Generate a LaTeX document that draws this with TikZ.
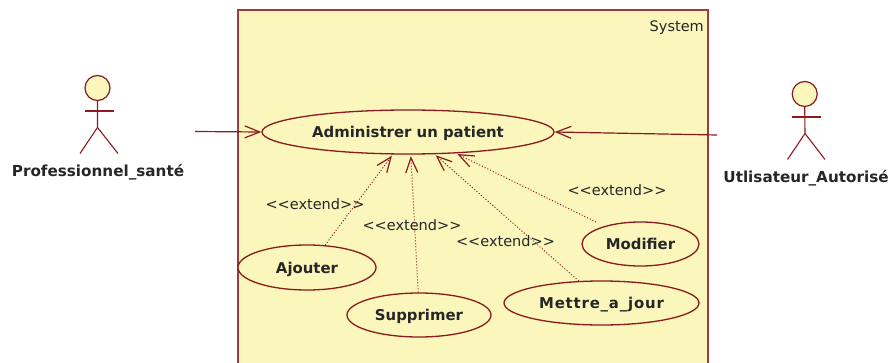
\documentclass[tikz,border=0pt]{standalone}
\usepackage{xcolor}
\usepackage{fontspec}
\setmainfont{DejaVu Sans}
\usepackage{tikz}
\usetikzlibrary{arrows.meta,positioning,shapes.geometric}
\definecolor{myred}{HTML}{8B1A1F}
\definecolor{myyellow}{HTML}{FAF6BC}
\definecolor{mytext}{HTML}{262626}

\begin{document}
\begin{tikzpicture}[>={Straight Barb[length=15pt,width=12pt,line width=1.2pt]},x=1pt,y=-1pt]
    \tikzstyle{usecase} = [shape=ellipse,draw=myred,line width=1.3pt,fill=myyellow,text=mytext,font=\fontsize{14.9}{16}\selectfont\bfseries,inner sep=0,text height=11pt,text depth=0pt]
    \tikzstyle{actorlabel} = [text=mytext,font=\fontsize{15.2}{16}\selectfont\bfseries,inner sep=0]
    \tikzstyle{extlabel} = [text=mytext,font=\fontsize{14.5}{16}\selectfont,inner sep=0]
    \tikzstyle{assoc} = [->,myred,line width=1.2pt]
    \tikzstyle{ext} = [->,myred,line width=1pt,dotted]
    \tikzstyle{limb} = [myred,line width=1.1pt]
    \tikzstyle{head} = [shape=circle,draw=myred,line width=1.2pt,fill=myyellow,minimum size=25pt,inner sep=0]
    \useasboundingbox (0,0) rectangle (890,363);
    % system box, cut by the lower edge
    \fill[myyellow] (238,10) rectangle (708,363);
    \draw[myred!85!white,line width=1.3pt] (238,363) -- (238,10) -- (708,10) -- (708,363);
    \node[extlabel,anchor=east] (system) at (704,28) {System};

    % left actor
    \node[head] (prof) at (97.5,88) {};
    \draw[limb] (prof.south) -- (97.5,127.5) -- (80,153.5);
    \draw[limb] (97.5,127.5) -- (118,153.5);
    \draw[limb] (85,111) -- (113.5,111);
    \node[actorlabel] (proflabel) at (98,172) {Professionnel\_santé};

    % right actor
    \node[head] (util) at (804.7,94) {};
    \draw[limb] (util.south) -- (805,133.5) -- (787.5,159.5);
    \draw[limb] (805,133.5) -- (825,159.5);
    \draw[limb] (792,117) -- (821,117);
    \node[actorlabel] (utillabel) at (806,178) {Utlisateur\_Autorisé};

    \node[usecase,minimum width=292pt,minimum height=44pt] (admin) at (408,132) {Administrer un patient};
    \node[usecase,minimum width=138pt,minimum height=45pt] (ajouter) at (307,267.5) {Ajouter};
    \node[usecase,minimum width=144pt,minimum height=44pt] (supprimer) at (419,315) {Supprimer};
    \node[usecase,minimum width=195pt,minimum height=44pt] (mettre) at (601.5,303) {\addfontfeature{LetterSpace=5.5}Mettre\_a\_jour};
    \node[usecase,minimum width=117pt,minimum height=44pt] (modifier) at (640.5,244) {Modifier};

    \coordinate (profend) at (195,131.5);
    \coordinate (utilend) at (717,135);
    \coordinate (modstart) at (596,222);
    \draw[assoc] (profend) -- (admin.west);
    \draw[assoc] (utilend) -- (admin.east);

    \draw[ext,shorten >=1.5pt] (ajouter.51) -- (admin.236);
    \draw[ext,shorten >=1.5pt] (supprimer.92) -- (admin.277);
    \draw[ext,shorten >=1.5pt] (mettre.136) -- (admin.320);
    \draw[ext,shorten >=1.5pt] (modstart) -- (admin.336);

    \node[extlabel] (ext1) at (315,204) {<{}<extend>{}>};
    \node[extlabel] (ext2) at (412,225) {<{}<extend>{}>};
    \node[extlabel] (ext3) at (505.5,241) {<{}<extend>{}>};
    \node[extlabel] (ext4) at (617,190) {<{}<extend>{}>};
\end{tikzpicture}
\end{document}
